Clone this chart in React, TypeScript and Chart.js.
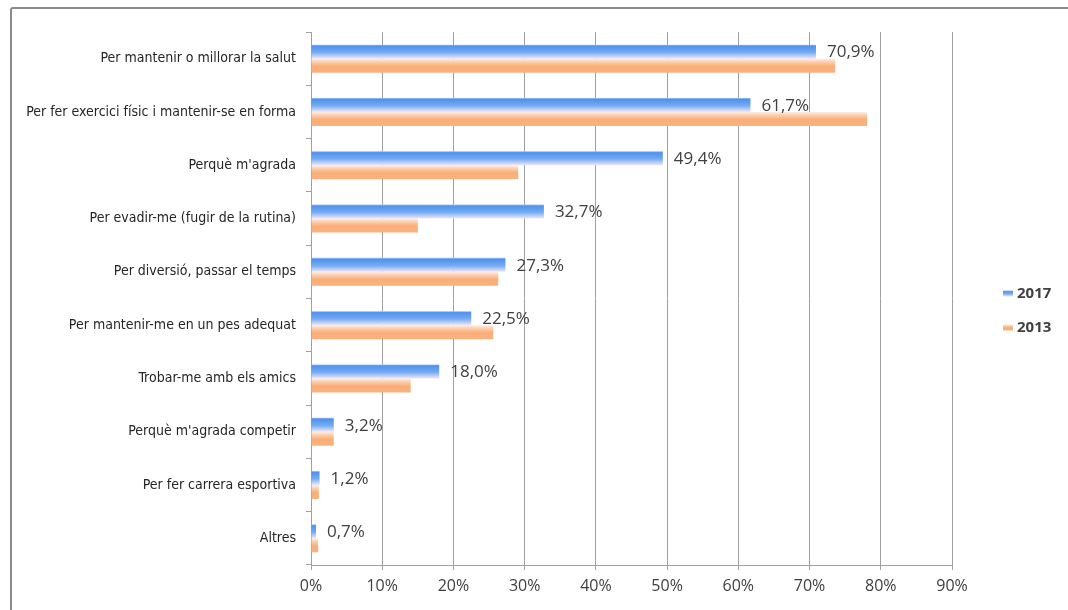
import React, { useEffect, useRef } from "react";
import { Chart, registerables } from "chart.js";

Chart.register(...registerables);

const categories = [
  "Per mantenir o millorar la salut",
  "Per fer exercici físic i mantenir-se en forma",
  "Perquè m'agrada",
  "Per evadir-me (fugir de la rutina)",
  "Per diversió, passar el temps",
  "Per mantenir-me en un pes adequat",
  "Trobar-me amb els amics",
  "Perquè m'agrada competir",
  "Per fer carrera esportiva",
  "Altres",
];
const values2017 = [70.9, 61.7, 49.4, 32.7, 27.3, 22.5, 18.0, 3.2, 1.2, 0.7];
const values2013 = [73.6, 78.1, 29.1, 15.0, 26.3, 25.6, 14.0, 3.2, 1.1, 1.0];
const seriesNames = ["2017", "2013"];
const xTicks = [0, 10, 20, 30, 40, 50, 60, 70, 80, 90];

const CAT_PCT = 0.525;

const blueStops: [number, string][] = [
  [0, "#a3c6f6"],
  [0.1, "#4f92ee"],
  [0.55, "#74abf2"],
  [1, "#eee6f6"],
];
const orangeStops: [number, string][] = [
  [0, "#fdeee6"],
  [0.3, "#fcc7a1"],
  [0.55, "#f9ae78"],
  [1, "#f9b27f"],
];

function grad(ctx: CanvasRenderingContext2D, y0: number, y1: number, stops: [number, string][]) {
  const g = ctx.createLinearGradient(0, y0, 0, y1);
  stops.forEach(([o, c]) => g.addColorStop(o, c));
  return g;
}

function barBg(stops: [number, string][], dsIndex: number) {
  return (c: any) => {
    const chart = c.chart;
    const ys = chart.scales && chart.scales.y;
    if (!ys || c.dataIndex === undefined || !chart.chartArea) return stops[1][1];
    const center = ys.getPixelForValue(c.dataIndex);
    const cat = ys.height / categories.length;
    const thick = (cat * CAT_PCT) / 2;
    const y0 = dsIndex === 0 ? center - thick : center;
    return grad(chart.ctx, y0, y0 + thick, stops);
  };
}

const labelPlugin = {
  id: "valueLabels",
  afterDatasetsDraw(chart: any) {
    const ctx = chart.ctx;
    const meta = chart.getDatasetMeta(0);
    ctx.save();
    ctx.font = "17px 'Open Sans'";
    ctx.fillStyle = "#404040";
    ctx.textAlign = "left";
    ctx.textBaseline = "middle";
    meta.data.forEach((el: any, i: number) => {
      const v = values2017[i];
      ctx.fillText(v.toFixed(1).replace(".", ",") + "%", el.x + 11, el.y + 1);
    });
    ctx.restore();
  },
};

const legendPlugin = {
  id: "sideLegend",
  afterDraw(chart: any) {
    const ctx = chart.ctx;
    const area = chart.chartArea;
    const x = area.right + 51;
    const mid = (area.top + area.bottom) / 2;
    const ys = [mid - 5, mid + 29];
    const stops = [blueStops, orangeStops];
    ctx.save();
    ctx.font = "bold 15px 'Open Sans'";
    ctx.textBaseline = "middle";
    seriesNames.forEach((name, i) => {
      const y = ys[i];
      ctx.fillStyle = grad(ctx, y - 3, y + 3, stops[i]);
      ctx.fillRect(x, y - 3, 10, 6);
      ctx.fillStyle = "#404040";
      ctx.fillText(name, x + 14, y);
    });
    ctx.restore();
  },
};

export default function App() {
  const ref = useRef<HTMLCanvasElement>(null);
  useEffect(() => {
    if (!ref.current) return;
    const chart = new Chart(ref.current, {
      type: "bar",
      data: {
        labels: categories,
        datasets: [
          {
            label: seriesNames[0],
            data: values2017,
            backgroundColor: barBg(blueStops, 0) as any,
            borderWidth: 0,
            categoryPercentage: CAT_PCT,
            barPercentage: 1,
          },
          {
            label: seriesNames[1],
            data: values2013,
            backgroundColor: barBg(orangeStops, 1) as any,
            borderWidth: 0,
            categoryPercentage: CAT_PCT,
            barPercentage: 1,
          },
        ],
      },
      options: {
        indexAxis: "y",
        responsive: false,
        animation: false,
        layout: { padding: { top: 32, right: 116, left: 0, bottom: 0 } },
        plugins: {
          legend: { display: false },
          tooltip: { enabled: false },
        },
        scales: {
          x: {
            min: 0,
            max: 90,
            afterBuildTicks: (s: any) => {
              s.ticks = xTicks.map((v) => ({ value: v }));
            },
            afterFit: (s: any) => {
              s.height = 45;
            },
            grid: {
              color: "#a0a0a0",
              lineWidth: 1,
              tickLength: 5,
              drawTicks: true,
            },
            border: { color: "#a0a0a0", width: 1 },
            ticks: {
              padding: 7,
              color: "#404040",
              font: { family: "'Open Sans'", size: 16 },
              callback: (v: any) => v + "%",
            },
          },
          y: {
            afterFit: (s: any) => {
              s.width = 311;
            },
            grid: {
              drawOnChartArea: false,
              drawTicks: true,
              tickLength: 5,
              color: "#a0a0a0",
            },
            border: { color: "#a0a0a0", width: 1 },
            ticks: {
              padding: 10,
              color: "#262626",
              font: { family: "'DejaVu Sans Condensed', 'Liberation Sans Narrow', sans-serif", size: 14 },
            },
          },
        },
      },
      plugins: [labelPlugin, legendPlugin],
    });
    return () => chart.destroy();
  }, []);

  return (
    <div style={{ position: "absolute", left: 0, top: 0, width: 1068, height: 610, overflow: "hidden", background: "#fff" }}>
      <div
        style={{
          position: "absolute",
          left: 10,
          top: 7,
          width: 1200,
          height: 800,
          border: "2px solid #8a8a8a",
          borderRadius: 3,
        }}
      />
      <canvas ref={ref} width={1068} height={610} style={{ position: "absolute", left: 0, top: 0 }} />
    </div>
  );
}
